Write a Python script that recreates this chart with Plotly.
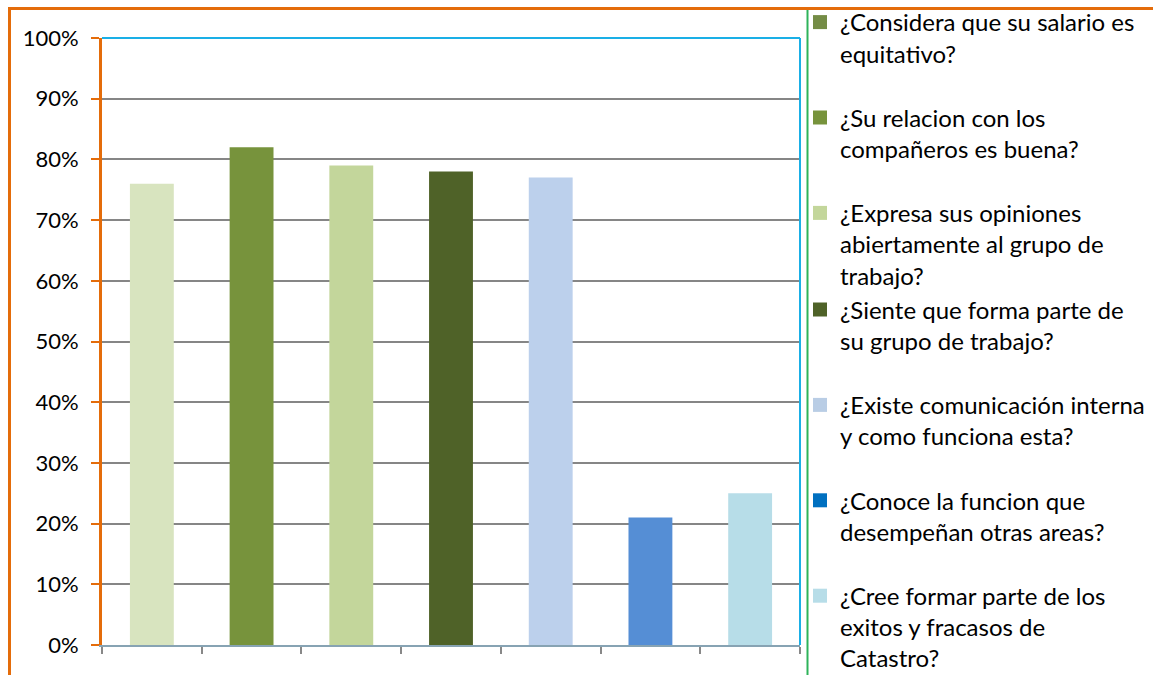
import plotly.graph_objects as go

# ---- data ----
questions = [
    "¿Considera que su salario es<br>equitativo?",
    "¿Su relacion con los<br>compañeros es buena?",
    "¿Expresa sus opiniones<br>abiertamente al grupo de<br>trabajo?",
    "¿Siente que forma parte de<br>su grupo de trabajo?",
    "¿Existe comunicación interna<br>y como funciona esta?",
    "¿Conoce la funcion que<br>desempeñan otras areas?",
    "¿Cree formar parte de los<br>exitos y fracasos de<br>Catastro?",
]
values = [76, 82, 79, 78, 77, 21, 25]
bar_colors = ["#D8E4BF", "#77933C", "#C3D69B", "#4F6228", "#BCD0EC", "#558ED5", "#B7DDE8"]
legend_colors = ["#748C46", "#77933C", "#C3D69B", "#4F6228", "#B9CDE5", "#0070C0", "#B7DDE8"]
legend_groups = ["g1", "g2", "g34", "g34", "g5", "g6", "g7"]
y_ticks = list(range(0, 101, 10))
y_tick_text = [f"{v}%" for v in y_ticks]

FONT = "Lato"
W, H = 1153, 675
L, R, T, B = 102, 800, 38, 645

fig = go.Figure()
fig.add_trace(go.Bar(
    x=list(range(len(values))), y=values, width=0.44,
    marker=dict(color=bar_colors, line=dict(width=0)),
    showlegend=False, hoverinfo="y",
))
for q, c, g in zip(questions, legend_colors, legend_groups):
    fig.add_trace(go.Scatter(x=[None], y=[None], name=q, mode="markers",
                             marker=dict(symbol="square", size=14, color=c),
                             legendgroup=g, showlegend=True))

fig.update_layout(
    width=W, height=H,
    margin=dict(l=L, r=W - R, t=T, b=H - B, pad=0, autoexpand=False),
    paper_bgcolor="white", plot_bgcolor="white",
    barmode="overlay",
    font=dict(family=FONT, color="#000000"),
    showlegend=True,
    legend=dict(
        xref="container", yref="container",
        x=800 / W, y=1.0, xanchor="left", yanchor="top",
        maxheight=1000,
        font=dict(family=FONT, size=24, color="#000000"),
        traceorder="grouped", tracegroupgap=30,
        valign="top", itemwidth=30, itemsizing="trace",
        bgcolor="rgba(0,0,0,0)", borderwidth=0,
        itemclick=False, itemdoubleclick=False,
    ),
    xaxis=dict(
        range=[-0.5, len(values) - 0.5],
        tickvals=[i - 0.5 for i in range(len(values) + 1)],
        ticktext=["" for _ in range(len(values) + 1)],
        ticks="outside", ticklen=7, tickwidth=2, tickcolor="#888888",
        showline=True, linecolor="#87A3B3", linewidth=2,
        showgrid=False, zeroline=False, fixedrange=True,
    ),
    yaxis=dict(
        range=[0, 100],
        tickmode="array", tickvals=y_ticks, ticktext=y_tick_text,
        tickfont=dict(family=FONT, size=22, color="#000000"),
        ticks="outside", ticklen=8, tickwidth=2, tickcolor="#E46C0A",
        ticklabelstandoff=8,
        showline=True, linecolor="#E46C0A", linewidth=3,
        showgrid=True, gridcolor="#868686", gridwidth=2,
        zeroline=False, fixedrange=True,
    ),
)

def px_x(px):
    return (px - L) / (R - L)

def px_y(py):
    return (B - py) / (B - T)

# plot-area border (top & right, cyan)
fig.add_shape(type="line", xref="x domain", yref="y domain", x0=0, x1=1, y0=1, y1=1,
              line=dict(color="#1AAFE6", width=2), layer="above")
fig.add_shape(type="line", xref="x domain", yref="y domain", x0=1, x1=1, y0=0, y1=1,
              line=dict(color="#1AAFE6", width=2), layer="above")
# outer chart border (orange), left and top
fig.add_shape(type="line", xref="x domain", yref="y domain",
              x0=px_x(9.5), x1=px_x(9.5), y0=px_y(8.5), y1=px_y(H + 5),
              line=dict(color="#E46C0A", width=3), layer="above")
fig.add_shape(type="line", xref="x domain", yref="y domain",
              x0=px_x(8), x1=px_x(W + 5), y0=px_y(8.5), y1=px_y(8.5),
              line=dict(color="#E46C0A", width=3), layer="above")
# legend box border (green)
fig.add_shape(type="line", xref="x domain", yref="y domain",
              x0=px_x(807.5), x1=px_x(807.5), y0=px_y(10), y1=px_y(H + 5),
              line=dict(color="#2EB35A", width=2), layer="above")

fig.write_html("out.html", config={"displayModeBar": False})
